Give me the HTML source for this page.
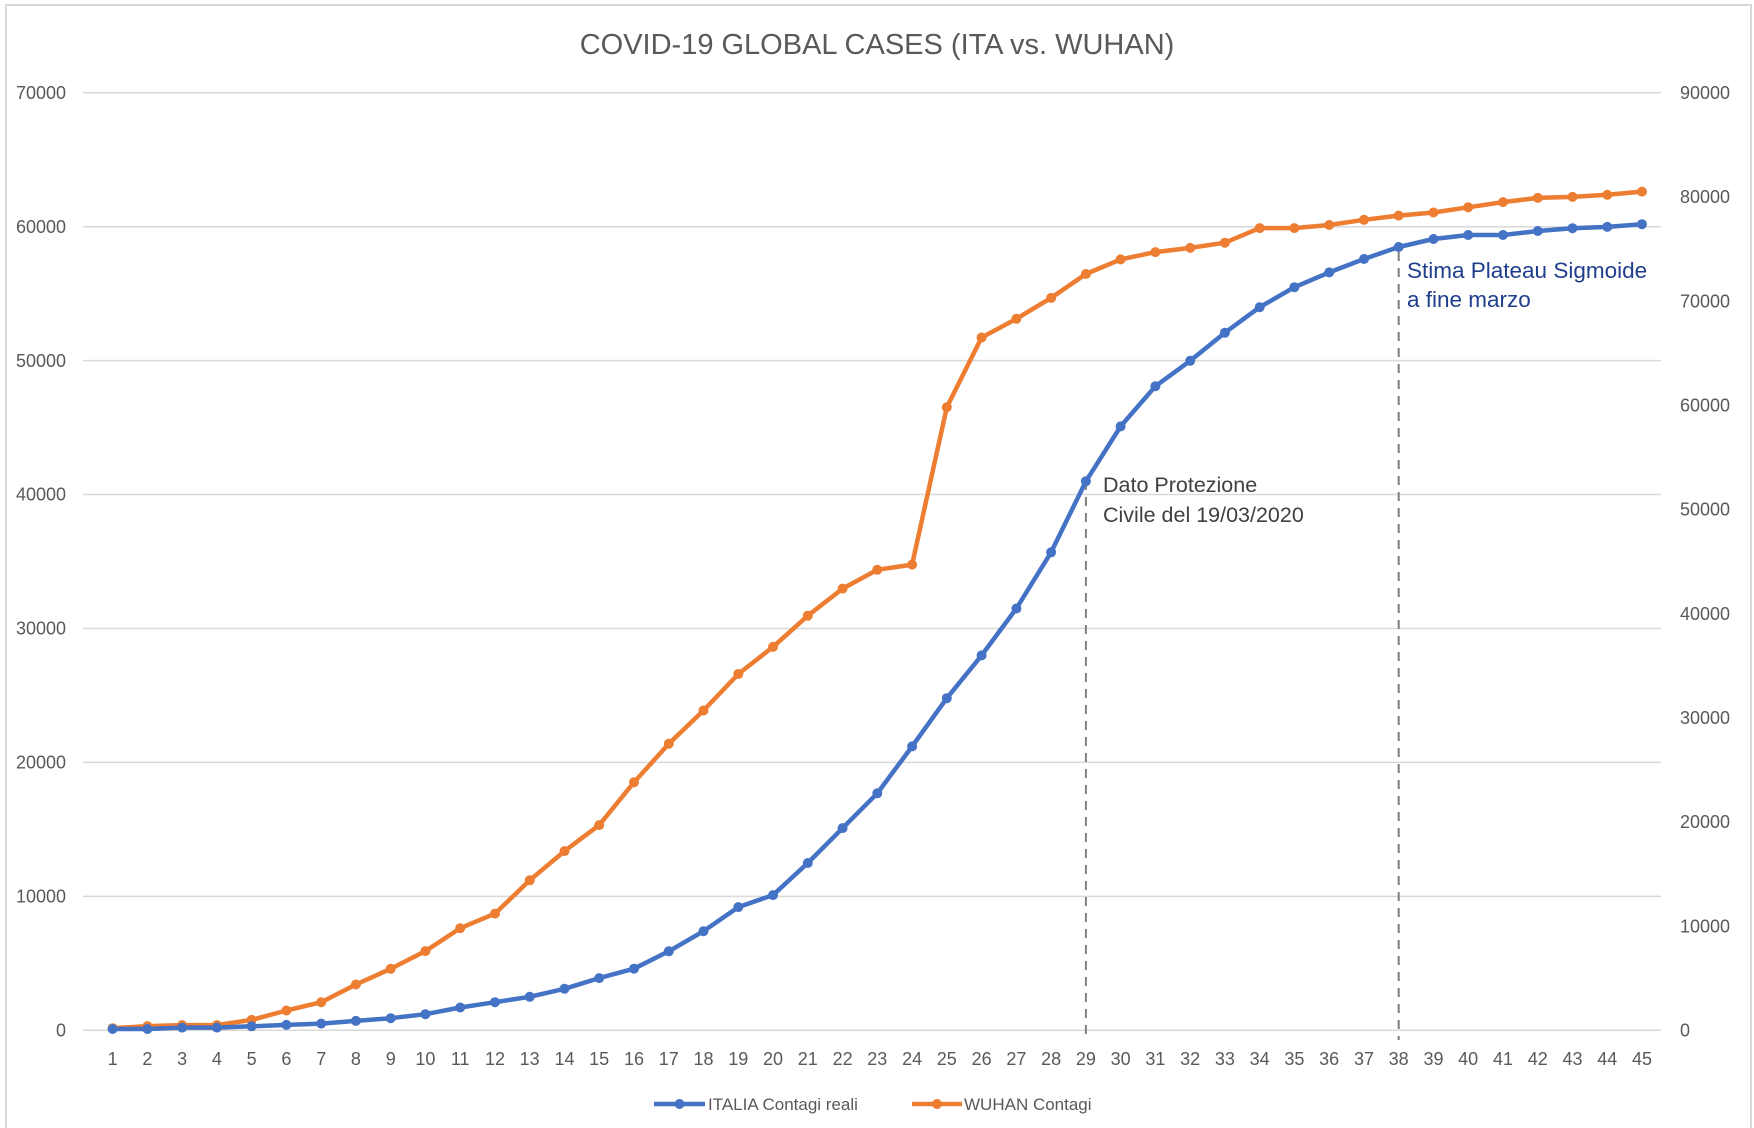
<!DOCTYPE html>
<html><head><meta charset="utf-8"><style>
html,body{margin:0;padding:0;background:#fff;}
svg{display:block;font-family:"Liberation Sans",sans-serif;}
</style></head><body>
<svg width="1754" height="1128" viewBox="0 0 1754 1128" xmlns="http://www.w3.org/2000/svg">
<rect x="6" y="5" width="1745" height="1130" fill="#fff" stroke="#d9d9d9" stroke-width="2"/>
<text x="877" y="54" text-anchor="middle" font-size="29" fill="#595959">COVID-19 GLOBAL CASES (ITA vs. WUHAN)</text>
<g stroke="#d9d9d9" stroke-width="1.5">
<line x1="83" x2="1661" y1="1030.3" y2="1030.3"/>
<line x1="83" x2="1661" y1="896.4" y2="896.4"/>
<line x1="83" x2="1661" y1="762.4" y2="762.4"/>
<line x1="83" x2="1661" y1="628.5" y2="628.5"/>
<line x1="83" x2="1661" y1="494.5" y2="494.5"/>
<line x1="83" x2="1661" y1="360.6" y2="360.6"/>
<line x1="83" x2="1661" y1="226.7" y2="226.7"/>
<line x1="83" x2="1661" y1="92.7" y2="92.7"/>
</g>
<g font-size="18" fill="#595959" text-anchor="end">
<text x="66" y="1036.5">0</text>
<text x="66" y="902.6">10000</text>
<text x="66" y="768.6">20000</text>
<text x="66" y="634.7">30000</text>
<text x="66" y="500.7">40000</text>
<text x="66" y="366.8">50000</text>
<text x="66" y="232.9">60000</text>
<text x="66" y="98.9">70000</text>
</g>
<g font-size="18" fill="#595959" text-anchor="start">
<text x="1680" y="1036.5">0</text>
<text x="1680" y="932.3">10000</text>
<text x="1680" y="828.1">20000</text>
<text x="1680" y="724">30000</text>
<text x="1680" y="619.8">40000</text>
<text x="1680" y="515.6">50000</text>
<text x="1680" y="411.4">60000</text>
<text x="1680" y="307.3">70000</text>
<text x="1680" y="203.1">80000</text>
<text x="1680" y="98.9">90000</text>
</g>
<g font-size="18" fill="#595959" text-anchor="middle">
<text x="112.6" y="1065">1</text><text x="147.4" y="1065">2</text><text x="182.1" y="1065">3</text><text x="216.9" y="1065">4</text><text x="251.6" y="1065">5</text><text x="286.4" y="1065">6</text><text x="321.2" y="1065">7</text><text x="355.9" y="1065">8</text><text x="390.7" y="1065">9</text><text x="425.4" y="1065">10</text><text x="460.2" y="1065">11</text><text x="495" y="1065">12</text><text x="529.7" y="1065">13</text><text x="564.5" y="1065">14</text><text x="599.2" y="1065">15</text><text x="634" y="1065">16</text><text x="668.8" y="1065">17</text><text x="703.5" y="1065">18</text><text x="738.3" y="1065">19</text><text x="773" y="1065">20</text><text x="807.8" y="1065">21</text><text x="842.6" y="1065">22</text><text x="877.3" y="1065">23</text><text x="912.1" y="1065">24</text><text x="946.8" y="1065">25</text><text x="981.6" y="1065">26</text><text x="1016.4" y="1065">27</text><text x="1051.1" y="1065">28</text><text x="1085.9" y="1065">29</text><text x="1120.6" y="1065">30</text><text x="1155.4" y="1065">31</text><text x="1190.2" y="1065">32</text><text x="1224.9" y="1065">33</text><text x="1259.7" y="1065">34</text><text x="1294.4" y="1065">35</text><text x="1329.2" y="1065">36</text><text x="1364" y="1065">37</text><text x="1398.7" y="1065">38</text><text x="1433.5" y="1065">39</text><text x="1468.2" y="1065">40</text><text x="1503" y="1065">41</text><text x="1537.8" y="1065">42</text><text x="1572.5" y="1065">43</text><text x="1607.3" y="1065">44</text><text x="1642" y="1065">45</text>
</g>
<g stroke="#7f7f7f" stroke-width="2" stroke-dasharray="9,7">
<line x1="1085.9" y1="481" x2="1085.9" y2="1040"/>
<line x1="1398.7" y1="252" x2="1398.7" y2="1040"/>
</g>
<polyline fill="none" stroke="#ED7D31" stroke-width="4.5" stroke-linejoin="round" points="112.6,1028.2 147.4,1026.1 182.1,1025.1 216.9,1025.1 251.6,1019.9 286.4,1010.5 321.2,1002.2 355.9,984.5 390.7,968.8 425.4,951.1 460.2,928.2 495,913.6 529.7,880.3 564.5,851.1 599.2,825.1 634,782.3 668.8,743.8 703.5,710.5 738.3,674 773,646.9 807.8,615.7 842.6,588.6 877.3,569.8 912.1,564.6 946.8,407.3 981.6,337.5 1016.4,318.8 1051.1,297.9 1085.9,274 1120.6,259.4 1155.4,252.1 1190.2,247.9 1224.9,242.7 1259.7,228.1 1294.4,228.1 1329.2,225 1364,219.8 1398.7,215.6 1433.5,212.5 1468.2,207.3 1503,202.1 1537.8,197.9 1572.5,196.9 1607.3,194.8 1642,191.6"/>
<polyline fill="none" stroke="#4472C4" stroke-width="4.5" stroke-linejoin="round" points="112.6,1029 147.4,1029 182.1,1027.6 216.9,1027.6 251.6,1026.3 286.4,1024.9 321.2,1023.6 355.9,1020.9 390.7,1018.2 425.4,1014.2 460.2,1007.5 495,1002.2 529.7,996.8 564.5,988.8 599.2,978.1 634,968.7 668.8,951.3 703.5,931.2 738.3,907.1 773,895.1 807.8,863 842.6,828.1 877.3,793.3 912.1,746.4 946.8,698.2 981.6,655.4 1016.4,608.5 1051.1,552.3 1085.9,481.3 1120.6,426.4 1155.4,386.2 1190.2,360.8 1224.9,332.7 1259.7,307.2 1294.4,287.2 1329.2,272.4 1364,259 1398.7,247 1433.5,239 1468.2,235 1503,235 1537.8,231 1572.5,228.2 1607.3,226.9 1642,224.2"/>
<g fill="#ED7D31">
<circle cx="112.6" cy="1028.2" r="5"/><circle cx="147.4" cy="1026.1" r="5"/><circle cx="182.1" cy="1025.1" r="5"/><circle cx="216.9" cy="1025.1" r="5"/><circle cx="251.6" cy="1019.9" r="5"/><circle cx="286.4" cy="1010.5" r="5"/><circle cx="321.2" cy="1002.2" r="5"/><circle cx="355.9" cy="984.5" r="5"/><circle cx="390.7" cy="968.8" r="5"/><circle cx="425.4" cy="951.1" r="5"/><circle cx="460.2" cy="928.2" r="5"/><circle cx="495" cy="913.6" r="5"/><circle cx="529.7" cy="880.3" r="5"/><circle cx="564.5" cy="851.1" r="5"/><circle cx="599.2" cy="825.1" r="5"/><circle cx="634" cy="782.3" r="5"/><circle cx="668.8" cy="743.8" r="5"/><circle cx="703.5" cy="710.5" r="5"/><circle cx="738.3" cy="674" r="5"/><circle cx="773" cy="646.9" r="5"/><circle cx="807.8" cy="615.7" r="5"/><circle cx="842.6" cy="588.6" r="5"/><circle cx="877.3" cy="569.8" r="5"/><circle cx="912.1" cy="564.6" r="5"/><circle cx="946.8" cy="407.3" r="5"/><circle cx="981.6" cy="337.5" r="5"/><circle cx="1016.4" cy="318.8" r="5"/><circle cx="1051.1" cy="297.9" r="5"/><circle cx="1085.9" cy="274" r="5"/><circle cx="1120.6" cy="259.4" r="5"/><circle cx="1155.4" cy="252.1" r="5"/><circle cx="1190.2" cy="247.9" r="5"/><circle cx="1224.9" cy="242.7" r="5"/><circle cx="1259.7" cy="228.1" r="5"/><circle cx="1294.4" cy="228.1" r="5"/><circle cx="1329.2" cy="225" r="5"/><circle cx="1364" cy="219.8" r="5"/><circle cx="1398.7" cy="215.6" r="5"/><circle cx="1433.5" cy="212.5" r="5"/><circle cx="1468.2" cy="207.3" r="5"/><circle cx="1503" cy="202.1" r="5"/><circle cx="1537.8" cy="197.9" r="5"/><circle cx="1572.5" cy="196.9" r="5"/><circle cx="1607.3" cy="194.8" r="5"/><circle cx="1642" cy="191.6" r="5"/>
</g>
<g fill="#4472C4">
<circle cx="112.6" cy="1029" r="5"/><circle cx="147.4" cy="1029" r="5"/><circle cx="182.1" cy="1027.6" r="5"/><circle cx="216.9" cy="1027.6" r="5"/><circle cx="251.6" cy="1026.3" r="5"/><circle cx="286.4" cy="1024.9" r="5"/><circle cx="321.2" cy="1023.6" r="5"/><circle cx="355.9" cy="1020.9" r="5"/><circle cx="390.7" cy="1018.2" r="5"/><circle cx="425.4" cy="1014.2" r="5"/><circle cx="460.2" cy="1007.5" r="5"/><circle cx="495" cy="1002.2" r="5"/><circle cx="529.7" cy="996.8" r="5"/><circle cx="564.5" cy="988.8" r="5"/><circle cx="599.2" cy="978.1" r="5"/><circle cx="634" cy="968.7" r="5"/><circle cx="668.8" cy="951.3" r="5"/><circle cx="703.5" cy="931.2" r="5"/><circle cx="738.3" cy="907.1" r="5"/><circle cx="773" cy="895.1" r="5"/><circle cx="807.8" cy="863" r="5"/><circle cx="842.6" cy="828.1" r="5"/><circle cx="877.3" cy="793.3" r="5"/><circle cx="912.1" cy="746.4" r="5"/><circle cx="946.8" cy="698.2" r="5"/><circle cx="981.6" cy="655.4" r="5"/><circle cx="1016.4" cy="608.5" r="5"/><circle cx="1051.1" cy="552.3" r="5"/><circle cx="1085.9" cy="481.3" r="5"/><circle cx="1120.6" cy="426.4" r="5"/><circle cx="1155.4" cy="386.2" r="5"/><circle cx="1190.2" cy="360.8" r="5"/><circle cx="1224.9" cy="332.7" r="5"/><circle cx="1259.7" cy="307.2" r="5"/><circle cx="1294.4" cy="287.2" r="5"/><circle cx="1329.2" cy="272.4" r="5"/><circle cx="1364" cy="259" r="5"/><circle cx="1398.7" cy="247" r="5"/><circle cx="1433.5" cy="239" r="5"/><circle cx="1468.2" cy="235" r="5"/><circle cx="1503" cy="235" r="5"/><circle cx="1537.8" cy="231" r="5"/><circle cx="1572.5" cy="228.2" r="5"/><circle cx="1607.3" cy="226.9" r="5"/><circle cx="1642" cy="224.2" r="5"/>
</g>
<g font-size="21.5" fill="#404040">
<text x="1103" y="492">Dato Protezione</text>
<text x="1103" y="522">Civile del 19/03/2020</text>
</g>
<g font-size="22.5" fill="#1F3E8C">
<text x="1407" y="278">Stima Plateau Sigmoide</text>
<text x="1407" y="307">a fine marzo</text>
</g>
<line x1="654" y1="1104" x2="705" y2="1104" stroke="#4472C4" stroke-width="4.5"/>
<circle cx="679.5" cy="1104" r="5" fill="#4472C4"/>
<text x="708" y="1110" font-size="17" fill="#595959">ITALIA Contagi reali</text>
<line x1="912" y1="1104" x2="962" y2="1104" stroke="#ED7D31" stroke-width="4.5"/>
<circle cx="937" cy="1104" r="5" fill="#ED7D31"/>
<text x="964" y="1110" font-size="17" fill="#595959">WUHAN Contagi</text>
</svg>
</body></html>
